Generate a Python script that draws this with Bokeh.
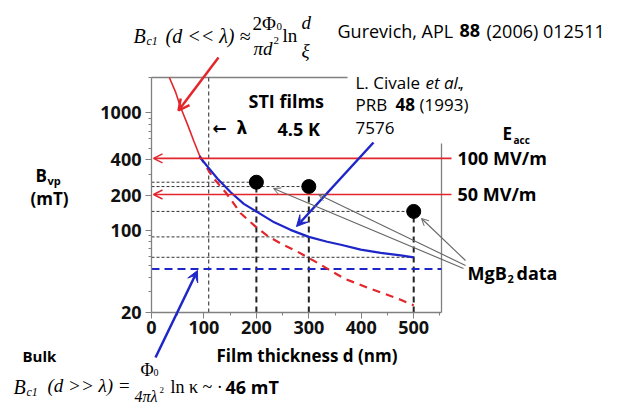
import math
from bokeh.plotting import figure
from bokeh.models import (Label, Arrow, OpenHead, VeeHead, FixedTicker,
                          BasicTickFormatter, LinearAxis, LogAxis)
from bokeh.embed import file_html
from bokeh.resources import INLINE

# ---------------- data ----------------
x_ticks = [0, 100, 200, 300, 400, 500]
x_minor = [50, 150, 250, 350, 450, 550]
y_ticks = [20, 100, 200, 400, 1000]
y_minor = [30, 40, 50, 60, 70, 80, 90, 300, 500, 600, 700, 800, 900, 2000]

# Gurevich thin-film Bc1 (solid part, above the 100 MV/m line)
thin_d = [34, 46, 56, 69, 81, 92]
thin_B = [2000, 1500, 1100, 790, 570, 430]
# continuation of the same curve (dashed)
thin_dash_d = [92, 116, 142, 170, 199, 224, 250, 278, 310, 336, 367, 412, 443, 475, 500]
thin_dash_B = [430, 286, 209, 140, 107, 88, 76, 66, 55, 47, 39, 32.5, 29, 25.7, 23]
# Civale et al. curve (blue)
civale_d = [91, 126, 151, 176, 202, 234, 265, 300, 335, 361, 399, 437, 475, 500]
civale_B = [425, 275, 211, 168, 143, 117, 101, 88, 80, 75.5, 68.5, 64.3, 61.2, 59]
# MgB2 data
mgb2_d = [200, 300, 500]
mgb2_B = [257, 236, 145]
# bulk Bc1 and London penetration depth
bulk_B = 47
lambda_d = 109
# accelerating-gradient levels
eacc_B = [410, 202]
eacc_labels = ["100 MV/m", "50 MV/m"]

# ---------------- geometry ----------------
W, H = 620, 404
FL, FR, FT, FB = 151, 441, 77, 312      # pixel box of the axes
X_MAX = 553
Y_MIN, Y_MAX = 20, 2000


def X(px):
    return (px - FL) / (FR - FL) * X_MAX


def Y(py):
    return Y_MIN * 10 ** ((FB - py) / (FB - FT) * math.log10(Y_MAX / Y_MIN))


def PY(b):
    return FB - (FB - FT) * math.log10(b / Y_MIN) / math.log10(Y_MAX / Y_MIN)


RED = "#e3262b"
BLUE = "#1f26c8"
GRAY = "#808080"
SANS = "Open Sans"
SERIF = "Liberation Serif"

p = figure(width=W, height=H, x_range=(X(0), X(W)), y_range=(Y(H), Y(0)),
           y_axis_type="log", x_axis_location=None, y_axis_location=None,
           output_backend="svg", toolbar_location=None, min_border=0,
           outline_line_color=None, background_fill_color="white",
           border_fill_color="white")
p.grid.visible = False

yax = LogAxis(fixed_location=0, bounds=(Y_MIN, Y_MAX),
              ticker=FixedTicker(ticks=y_ticks, minor_ticks=y_minor),
              formatter=BasicTickFormatter(use_scientific=False))
xax = LinearAxis(fixed_location=Y_MIN, bounds=(0, X_MAX),
                 ticker=FixedTicker(ticks=x_ticks, minor_ticks=x_minor))
for ax in (xax, yax):
    ax.axis_line_color = GRAY
    ax.axis_line_width = 1.3
    ax.major_tick_line_color = GRAY
    ax.minor_tick_line_color = GRAY
    ax.major_tick_in = 0
    ax.major_tick_out = 6
    ax.minor_tick_in = 0
    ax.minor_tick_out = 3
    ax.major_label_text_font = SANS
    ax.major_label_text_font_style = "bold"
    ax.major_label_text_font_size = "18px"
    ax.major_label_text_color = "#111111"
xax.major_label_standoff = 2
yax.major_label_standoff = 4
p.add_layout(yax, "left")
p.add_layout(xax, "below")

# partial frame lines (top leader to the Civale reference, right side)
p.segment(x0=[0], y0=[Y_MAX], x1=[X(347)], y1=[Y_MAX], line_color=GRAY, line_width=1.3)
p.segment(x0=[X_MAX], y0=[Y(143)], x1=[X_MAX], y1=[Y_MIN], line_color=GRAY, line_width=1.3)

# lambda line
p.line([lambda_d, lambda_d], [Y_MIN, Y_MAX], line_color="#555555", line_width=1.3, line_dash="4 3")

# dotted reference lines to the data points and to the blue curve
ref_y = list(mgb2_B) + [civale_B[civale_d.index(300)], civale_B[civale_d.index(500)]]
ref_x = list(mgb2_d) + [300, 500]
p.segment(x0=[0] * len(ref_y), y0=ref_y, x1=ref_x, y1=ref_y,
          line_color="#333333", line_width=1, line_dash="3 2")
# vertical dashed drops from the points
p.segment(x0=mgb2_d, y0=[Y_MIN] * 3, x1=mgb2_d, y1=mgb2_B,
          line_color="#222222", line_width=2, line_dash="6 4")

# bulk Bc1 line
p.segment(x0=[0], y0=[bulk_B], x1=[X_MAX], y1=[bulk_B], line_color=BLUE,
          line_width=2, line_dash="8 5")

# curves
p.line(thin_dash_d, thin_dash_B, line_color=RED, line_width=2.2, line_dash="8 6")
p.line(thin_d, thin_B, line_color=RED, line_width=1.6)
p.line(civale_d, civale_B, line_color=BLUE, line_width=2.2)

# data points
p.scatter(mgb2_d, mgb2_B, size=14, color="black")

# E_acc arrows
for b in eacc_B:
    p.add_layout(Arrow(end=OpenHead(size=9, line_color=RED, line_width=1.5),
                       x_start=X(451), y_start=b, x_end=X(153), y_end=b,
                       line_color=RED, line_width=1.6))

# pointer arrows
p.add_layout(Arrow(end=OpenHead(size=11, line_color=RED, line_width=2.5),
                   x_start=X(218), y_start=Y(57), x_end=X(178), y_end=Y(110),
                   line_color=RED, line_width=2.5))
p.add_layout(Arrow(end=VeeHead(size=11, fill_color=BLUE, line_color=BLUE),
                   x_start=X(373), y_start=Y(142), x_end=X(296), y_end=Y(226),
                   line_color=BLUE, line_width=2.5))
p.add_layout(Arrow(end=VeeHead(size=11, fill_color=BLUE, line_color=BLUE),
                   x_start=X(155), y_start=Y(357), x_end=X(197), y_end=Y(270),
                   line_color=BLUE, line_width=2.5))
for (sx, sy, ex, ey) in [(463, 268, 273, 188), (465, 265, 318, 194), (465, 260, 421, 218)]:
    p.add_layout(Arrow(end=OpenHead(size=7, line_color="#666666", line_width=1),
                       x_start=X(sx), y_start=Y(sy), x_end=X(ex), y_end=Y(ey),
                       line_color="#666666", line_width=1.1))


def lab(text, px, py, size, font=SANS, style="normal", align="left",
        baseline="middle", color="black"):
    p.add_layout(Label(x=X(px), y=Y(py), text=text, text_font=font,
                       text_font_size=f"{size}px", text_font_style=style,
                       text_align=align, text_baseline=baseline, text_color=color))


# top formula
lab("B", 133, 35, 20, SERIF, "italic", baseline="alphabetic")
lab("c1", 146, 40, 12, SERIF, "italic", baseline="alphabetic")
lab("(d << λ) ≈", 165, 35, 20, SERIF, "italic", baseline="alphabetic")
lab("2Φ", 252, 23, 19, SERIF, baseline="alphabetic")
lab("0", 276, 26, 11, SERIF, baseline="alphabetic")
lab("πd", 253, 48, 19, SERIF, "italic", baseline="alphabetic")
lab("2", 273, 40, 11, SERIF, baseline="alphabetic")
lab("ln", 282, 35, 19, SERIF, baseline="alphabetic")
lab("d", 301, 22, 19, SERIF, "italic", baseline="alphabetic")
lab("ξ", 301, 50, 19, SERIF, "italic", baseline="alphabetic")
lab("Gurevich, APL", 337, 30, 18)
lab("88", 459, 30, 18, style="bold")
lab("(2006) 012511", 486, 30, 18)

# Civale reference
lab("L. Civale", 355, 82, 17)
lab("et al.", 425, 82, 17, style="italic")
lab(",", 459, 82, 17)
lab("PRB", 355, 104, 17)
lab("48", 395, 104, 17, style="bold")
lab("(1993)", 419, 104, 17)
lab("7576", 355, 127, 17)

# in-plot texts
lab("STI films", 248, 100, 18, style="bold")
lab("4.5 K", 277, 128, 18, style="bold")
lab("←", 212, 127, 17, "DejaVu Sans", "bold")
lab("λ", 236, 127, 17, "DejaVu Sans", "bold")

# E_acc labels
lab("E", 502, 133, 17, style="bold")
lab("acc", 513, 139, 10, style="bold")
for b, t in zip(eacc_B, eacc_labels):
    lab(t, 457, PY(b), 18, style="bold")

lab("MgB", 467, 272, 18, style="bold")
lab("2", 507, 278, 11, style="bold")
lab("data", 516, 272, 18, style="bold")

# y axis title
lab("B", 35, 175, 17, style="bold")
lab("vp", 47, 180, 11, style="bold")
lab("(mT)", 30, 198, 17, style="bold")

# x axis title
lab("Film thickness  d (nm)", 216, 355, 17, style="bold")

# bulk formula
lab("Bulk", 22, 355, 15, style="bold")
lab("B", 13, 386, 20, SERIF, "italic", baseline="alphabetic")
lab("c1", 26, 391, 12, SERIF, "italic", baseline="alphabetic")
lab("(d >> λ) =", 47, 385, 19, SERIF, "italic", baseline="alphabetic")
lab("Φ", 140, 369, 18, SERIF, baseline="alphabetic")
lab("0", 153, 372, 10, SERIF, baseline="alphabetic")
lab("4πλ", 134, 396, 16, SERIF, "italic", baseline="alphabetic")
lab("2", 159, 389, 9, SERIF, baseline="alphabetic")
lab("ln κ ~ ·", 170, 386, 18, SERIF, baseline="alphabetic")
lab("46 mT", 225, 386, 18, style="bold", baseline="alphabetic")

open("out.html", "w").write(file_html(p, INLINE))
